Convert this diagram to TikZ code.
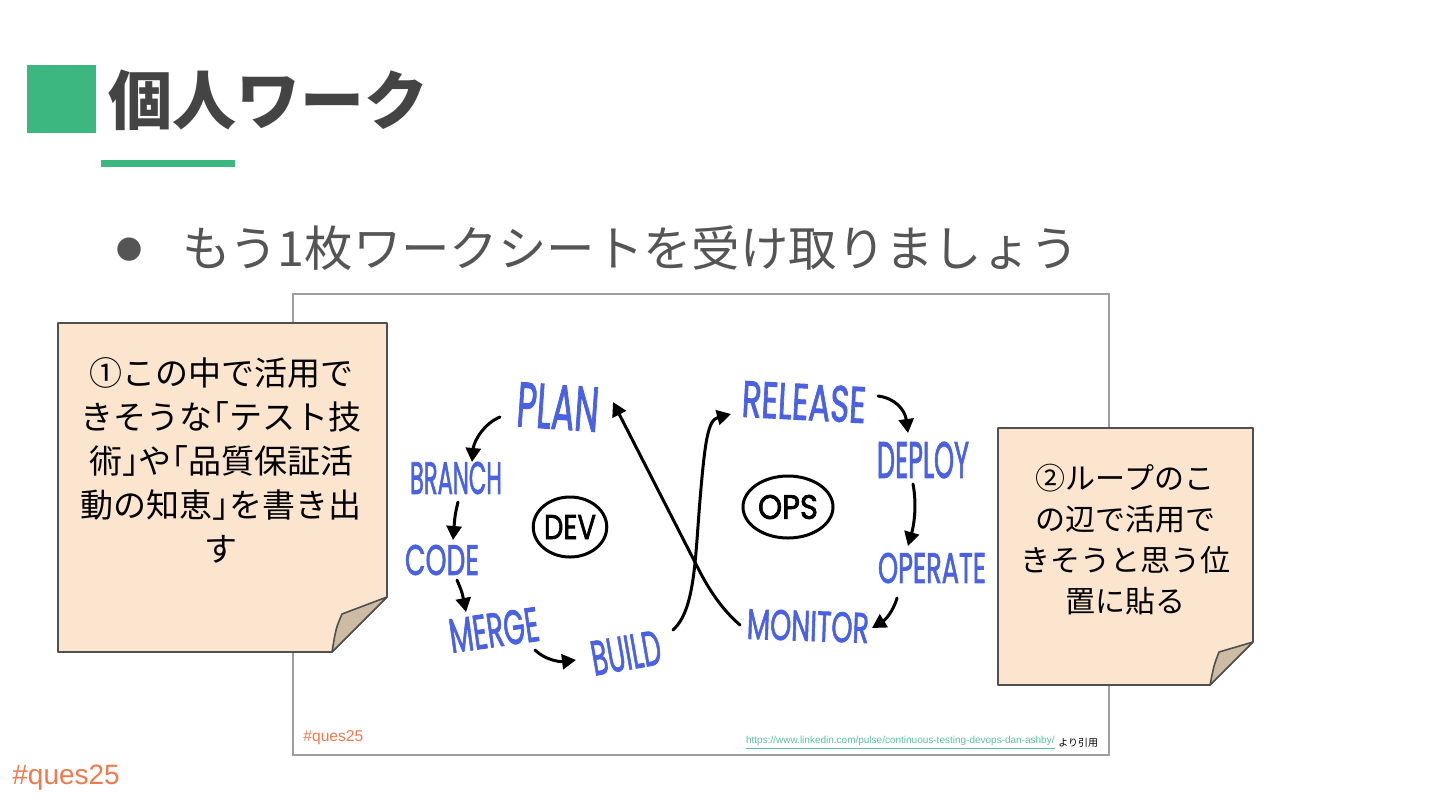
\documentclass[tikz,border=0pt]{standalone}
\usepackage{fontspec}
\usepackage{graphicx}
\usetikzlibrary{arrows.meta,shapes.geometric}
\setmainfont{Liberation Sans}
\newfontfamily\jp{Noto Sans CJK JP}
\newfontfamily\handf{Poppins}[FakeBold=2]
\definecolor{hdgreen}{HTML}{3DB780}
\definecolor{hdgray}{HTML}{444444}
\definecolor{subgray}{HTML}{555555}
\definecolor{devblue}{HTML}{4A62E2}
\definecolor{notefill}{HTML}{FCE5CE}
\definecolor{foldfill}{HTML}{CDBBA4}
\definecolor{noteline}{HTML}{505050}
\definecolor{framegray}{HTML}{9E9E9E}
\definecolor{tagorange}{HTML}{EE7A4E}
\definecolor{linkteal}{HTML}{5DBFA6}
\newcommand{\hb}[3]{\resizebox{#1pt}{#2pt}{#3}}
\newcommand{\halfw}[1]{{\addfontfeature{RawFeature=+halt}#1}}
\begin{document}
\begin{tikzpicture}[x=0.5pt,y=-0.5pt,
  handlbl/.style={inner sep=0pt, text=devblue, font=\handf},
  flow/.style={line width=1.5pt, line cap=round, -{Triangle[length=7pt,width=7.5pt]}},
  ring/.style={ellipse, draw, line width=1.5pt, inner sep=0pt, font=\handf},
  notetext/.style={inner sep=0pt, align=center, font=\jp\fontsize{16.5}{22}\selectfont, text=black},
  notebody/.style={fill=notefill, draw=noteline, line width=0.8pt, line join=round},
  notefold/.style={fill=foldfill, draw=noteline, line width=0.8pt, line join=round}]
\fill[white] (0,0) rectangle (1440,810);
\useasboundingbox (0,0) rectangle (1440,810);

% header
\fill[hdgreen] (27,65) rectangle (96,133);
\node[anchor=west, inner sep=0pt, text=hdgray, font=\jp\bfseries\fontsize{32}{32}\selectfont] (title) at (108,100) {個人ワーク};
\fill[hdgreen] (101,160) rectangle (235,167);

\node[inner sep=0pt, text=subgray, font=\jp\fontsize{13}{13}\selectfont] (bullet) at (129,250) {●};
\node[anchor=west, inner sep=0pt, text=subgray, font=\jp\fontsize{24.2}{24}\selectfont] (subtitle) at (182,248) {もう1枚ワークシートを受け取りましょう};

% image frame
\draw[framegray, line width=1pt] (293,294) rectangle (1109,755);

% DevOps labels
\node[handlbl, rotate=-4] (plan) at (558,407) {\hb{41}{22}{PLAN}};
\node[handlbl] (branch) at (456,478) {\hb{46}{16}{BRANCH}};
\node[handlbl] (code) at (442,560) {\hb{37}{15}{CODE}};
\node[handlbl, rotate=8] (merge) at (494,630) {\hb{45}{17}{MERGE}};
\node[handlbl, rotate=10] (build) at (626,653) {\hb{35}{17}{BUILD}};
\node[handlbl, rotate=-3] (release) at (804,402) {\hb{62}{18}{RELEASE}};
\node[handlbl] (deploy) at (923,460) {\hb{46}{18}{DEPLOY}};
\node[handlbl] (operate) at (932,568) {\hb{54}{15}{OPERATE}};
\node[handlbl, rotate=-2] (monitor) at (808,626) {\hb{61}{15}{MONITOR}};

\node[ring, minimum width=35pt, minimum height=30pt] (dev) at (570,527) {\hb{26}{12}{DEV}};
\node[ring, minimum width=45pt, minimum height=31pt] (ops) at (788,507) {\hb{30}{12}{OPS}};

% arrow end points
\coordinate (p1) at (500,417); \coordinate (b0) at (472,462);
\coordinate (b1) at (458,502); \coordinate (c0) at (453,540);
\coordinate (c1) at (457,580); \coordinate (m0) at (466,612);
\coordinate (m1) at (535,650); \coordinate (u0) at (576,660);
\coordinate (u1) at (673,630); \coordinate (r0) at (731,414);
\coordinate (r1) at (878,396); \coordinate (d0) at (908,433);
\coordinate (d1) at (913,484); \coordinate (o0) at (908,546);
\coordinate (o1) at (897,598); \coordinate (n0) at (872,628);
\coordinate (n1) at (740,625); \coordinate (pl0) at (613,402);

\draw[flow] (p1) .. controls (485,423) and (474,440) .. (b0);
\draw[flow] (b1) .. controls (455,515) .. (c0);
\draw[flow] (c1) .. controls (462,592) .. (m0);
\draw[flow] (m1) .. controls (545,660) and (560,662) .. (u0);
\draw[flow] (u1) .. controls (695,610) and (695,560) .. (700,500) .. controls (705,440) and (708,420) .. (r0);
\draw[flow] (n1) .. controls (725,612) and (712,595) .. (700,572) -- (pl0);
\draw[flow] (r1) .. controls (895,398) and (905,410) .. (d0);
\draw[flow] (d1) .. controls (917,505) and (914,525) .. (o0);
\draw[flow] (o1) .. controls (893,612) and (885,620) .. (n0);

% frame captions
\node[anchor=west, inner sep=0pt, text=tagorange, font=\fontsize{7.8}{8}\selectfont] (tagin) at (303,738) {\#ques25};
\node[anchor=east, inner sep=0pt, text=linkteal, font=\fontsize{5}{6}\selectfont] (url) at (1055,743) {\underline{https://www.linkedin.com/pulse/continuous-testing-devops-dan-ashby/}};
\node[anchor=west, inner sep=0pt, text=black, font=\jp\fontsize{5}{6}\selectfont] (cite) at (1058,743) {より引用};

% sticky note 1
\path[notebody] (58,323) -- (387,323) -- (387,597) -- (332,652) -- (58,652) -- cycle;
\path[notefold] (387,597) -- (342,614) .. controls (336,628) .. (332,652) -- cycle;
\node[notetext] (note1) at (221,460) {①この中で活用で\\きそうな\halfw{「}テスト技\\術\halfw{」}や\halfw{「}品質保証活\\動の知恵\halfw{」}を書き出\\す};

% sticky note 2
\path[notebody] (998,428) -- (1253,428) -- (1253,642) -- (1210,685) -- (998,685) -- cycle;
\path[notefold] (1253,642) -- (1219,652) .. controls (1214,665) .. (1210,685) -- cycle;
\node[notetext, font=\jp\fontsize{15}{20.5}\selectfont] (note2) at (1125,540) {②ループのこ\\の辺で活用で\\きそうと思う位\\置に貼る};

% footer tag
\node[anchor=west, inner sep=0pt, text=tagorange, font=\fontsize{14}{14}\selectfont] (tagout) at (12,778) {\#ques25};
\end{tikzpicture}
\end{document}
